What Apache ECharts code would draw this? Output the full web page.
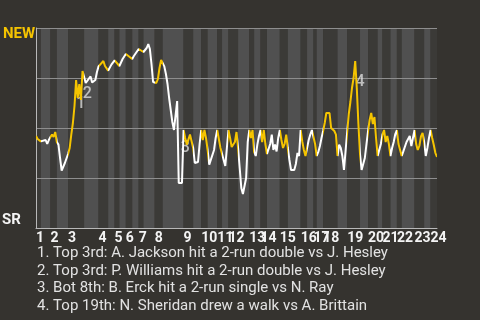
<!DOCTYPE html>
<html><head><meta charset="utf-8">
<script src="https://cdn.jsdelivr.net/npm/echarts@6/dist/echarts.min.js"></script>
<style>html,body{margin:0;padding:0;background:#35332f;}#c{width:480px;height:320px;}</style>
</head><body><div id="c"></div>
<script>
// inning numbers (labels under x axis)
const innings = [1,2,3,4,5,6,7,8,9,10,11,12,13,14,15,16,17,18,19,20,21,22,23,24];
// event index where each half inning starts (top1, bot1, top2, bot2, ...)
const halfStarts = [0,3, 9,13, 20,30, 39,45, 49,52, 56,60, 64,67, 74,79, 92,98, 103,107, 113,116, 120,126, 133,136, 140,144, 152,157, 165,169, 173,175, 179,188, 194,202, 207,213, 216,221, 225,228, 236,242, 246];
const lastEvent = 250;
// NEW win probability (%) by event index
const winProb = [
 [0,46],[1,44.5],[3,43.3],[4,43],[6,44],[7,42],[8,44],[9,45.5],[10,46.7],[11,45.5],[12,48],[13,43],[14,41.7],[15,35],[16,28.7],[17,28.5],[18,32.5],[20,37],
 [21,40],[22,46.7],[23,52.5],[24,61],[25,74],[26,65],[27,72],[28,64],[29,78.5],[30,77.5],
 [31,72.5],[32,72.8],[34,75.8],[35,72.8],[36,72.5],[37,74],[38,78],[39,80.8],
 [40,81.5],[42,83.5],[43,81],[45,78.7],[47,81.7],[49,83.8],[50,83],[52,81],[54,84.5],[56,87],
 [57,86.7],[60,84.5],[61,86],[62,87],[64,89.5],[65,89.7],[67,88],
 [69,90],[70,92],[71,89.5],[72,82],[73,73],[74,72.5],[75,72.5],[76,74.5],[77,80],[78,84],[79,85],
 [80,80.8],[81,77],[82,72],[83,65],[84,59],[85,53],[86,49],[87,49],[88,63.5],[89,22.5],[91,22.5],[92,49],
 [93,45],[94,41.7],[96,46.7],[97,47.5],[98,40],[99,32.5],[101,33],[102,42],[103,49],
 [104,44],[105,49],[106,45],[107,39],[108,31.7],[109,30.8],[111,39],[112,45],[113,49],
 [115,40],[116,37],[118,31],[119,40],[120,49],
 [121,45],[122,40.5],[123,41],[124,43],[125,48],[126,40],
 [127,30],[128,20],[129,17],[130,17],[131,25],[132,43],[133,49],
 [134,45],[135,49],[136,38],[137,36],[138,41.7],[139,46],[140,49],
 [141,43],[142,49],[143,42],[144,37],[145,37.5],[146,42],[147,46.7],[148,39],[149,41.7],[150,38.3],[151,45],[152,49],
 [153,44],[154,40],[155,42],[156,46.7],[157,40],[158,34],[159,29],[160,30],[161,29],[162,32],[163,37.5],[164,36],[165,49],
 [166,43.3],[167,39],[168,36],[169,40],[170,44],[171,46.7],[172,49],[173,49],
 [174,42],[175,36],[176,38],[177,41],[178,45],[179,48.5],
 [180,52.5],[181,57.5],[183,57.5],[184,50],[185,49],[186,48.5],[187,46.7],[188,36],
 [189,41.7],[190,40],[191,36],[192,29],[193,30],[194,48],
 [195,57],[196,63],[197,70],[198,75],[199,83.5],[200,70],[201,52],[202,37],
 [203,29],[204,28.5],[205,35],[206,41.7],[207,48.3],
 [208,54],[209,57.5],[210,52],[211,55.5],[212,45],[213,36],
 [214,39],[215,42],[216,46.7],[217,49],[218,43],[219,46],[220,42],[221,36],
 [222,40],[223,43],[224,47],[225,49],[226,42],[227,39],[228,36],
 [229,38.3],[230,37.5],[231,43],[232,42],[233,46],[234,41],[235,42],[236,49],
 [237,42],[238,39],[239,41],[240,45.8],[241,47.5],[242,43],
 [243,36],[244,40],[245,45],[246,49],[247,45],[248,41.5],[249,37.5],[250,35.5]
];
// key-play markers: [event, win prob, number]
const notePoints = [[28,62,'1'],[32,67,'2'],[93,40,'3'],[202,73,'4']];
const noteTexts = [
 '1. Top 3rd: A. Jackson hit a 2-run double vs J. Hesley',
 '2. Top 3rd: P. Williams hit a 2-run double vs J. Hesley',
 '3. Bot 8th: B. Erck hit a 2-run single vs N. Ray',
 '4. Top 19th: N. Sheridan drew a walk vs A. Brittain'
];
const teamTop = 'NEW', teamBottom = 'SR';

const YELLOW = '#f5c400', WHITE = '#ffffff';
const DARK = '#3b3a37', LIGHT = '#505050';
const FONT = 'Roboto, "Noto Sans", sans-serif';

const areas = [], pieces = [];
halfStarts.forEach((s, i) => {
  const e = i + 1 < halfStarts.length ? halfStarts[i + 1] : lastEvent;
  const isTop = i % 2 === 0;
  areas.push([{ xAxis: s, itemStyle: { color: isTop ? DARK : LIGHT } }, { xAxis: e }]);
  const p = { gte: s, color: isTop ? YELLOW : WHITE };
  if (i + 1 < halfStarts.length) p.lt = e; else p.lte = e;
  pieces.push(p);
});
const topStarts = halfStarts.filter((_, i) => i % 2 === 0);

const chart = echarts.init(document.getElementById('c'));
chart.setOption({
  backgroundColor: '#35332f',
  animation: false,
  grid: { left: 36, top: 28, width: 401, height: 200 },
  xAxis: {
    type: 'value', min: 0, max: lastEvent, z: 4,
    axisLine: { show: true, lineStyle: { color: '#b8b8b8', width: 1 } },
    axisTick: { show: false },
    splitLine: { show: false },
    axisLabel: {
      customValues: topStarts,
      formatter: v => String(innings[topStarts.indexOf(v)]),
      align: 'left', margin: 3, color: '#f4f4f4',
      fontSize: 14, fontWeight: 'bold', fontFamily: FONT
    }
  },
  yAxis: {
    type: 'value', min: 0, max: 100, interval: 25, z: 4,
    axisLine: { show: true, lineStyle: { color: '#b8b8b8', width: 1 } },
    axisTick: { show: false },
    axisLabel: { show: false },
    splitLine: { show: true, lineStyle: { color: '#8e8e8e', width: 1 } }
  },
  visualMap: { show: false, type: 'piecewise', dimension: 0, seriesIndex: 2, pieces: pieces },
  series: [
    { type: 'line', data: [], z: 1, silent: true,
      markArea: { silent: true, z: 1, data: areas } },
    { type: 'scatter', data: notePoints, symbolSize: 1, itemStyle: { color: 'rgba(0,0,0,0)' }, z: 5,
      label: { show: true, position: 'inside', formatter: p => p.data[2],
        color: 'rgba(230,230,230,0.92)', fontSize: 16, fontWeight: 500, fontFamily: FONT } },
    { type: 'line', data: winProb, showSymbol: false, z: 6,
      lineStyle: { width: 2 } }
  ],
  graphic: [
    { type: 'text', x: 3, y: 27, style: { text: teamTop, fill: YELLOW, font: 'bold 15px ' + FONT } },
    { type: 'text', x: 2, y: 213, style: { text: teamBottom, fill: '#f4f4f4', font: 'bold 15px ' + FONT } }
  ].concat(noteTexts.map((t, i) => ({
    type: 'text', x: 37, y: 253.5 + i * 17.6,
    style: { text: t, fill: '#e2e2e2', font: '15px ' + FONT, verticalAlign: 'middle' }
  })))
});
</script></body></html>
